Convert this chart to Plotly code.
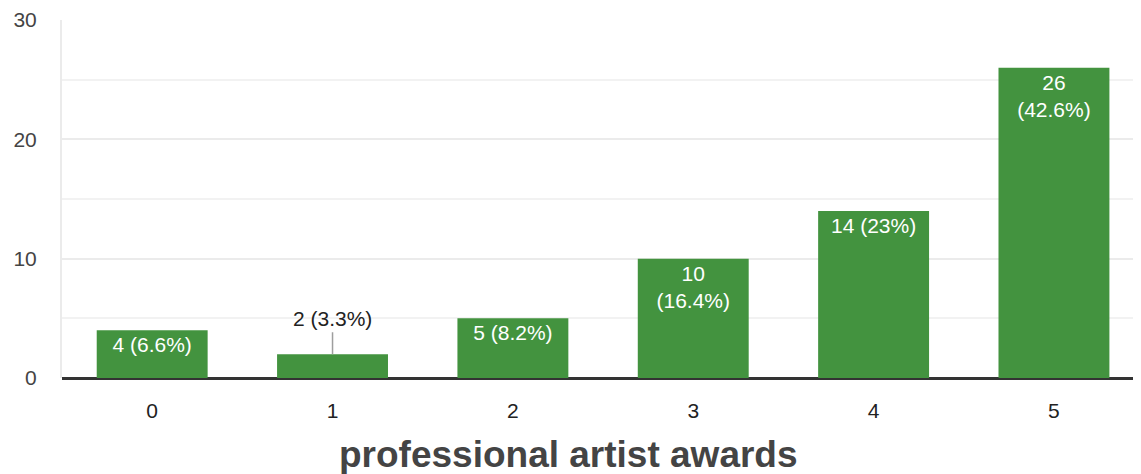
import plotly.graph_objects as go

categories = ["0", "1", "2", "3", "4", "5"]
counts = [4, 2, 5, 10, 14, 26]
percents = ["6.6%", "3.3%", "8.2%", "16.4%", "23%", "42.6%"]
wrap = [False, False, False, True, False, True]
outside = [False, True, False, False, False, False]
x_title = "professional artist awards"

labels = []
for c, p, w, o in zip(counts, percents, wrap, outside):
    if o:
        labels.append("")
    elif w:
        labels.append(f"{c}<br>({p})")
    else:
        labels.append(f"{c} ({p})")

GREEN = "#43933f"
FONT = "Liberation Sans, Arial, sans-serif"

fig = go.Figure()
fig.add_trace(go.Bar(
    x=categories, y=counts, text=labels,
    textposition="inside", insidetextanchor="end",
    textangle=0,
    textfont=dict(family=FONT, size=21, color="white"),
    marker=dict(color=GREEN, line=dict(width=0)),
    width=0.615, hoverinfo="skip", cliponaxis=False,
))

for cat, c, p, o in zip(categories, counts, percents, outside):
    if o:
        fig.add_annotation(
            x=cat, y=c, text=f"{c} ({p})", showarrow=True, arrowhead=0,
            arrowwidth=1.5, arrowcolor="#9e9e9e", ax=0, ay=-22, standoff=0,
            font=dict(family=FONT, size=21, color="#222222"),
            yanchor="bottom",
        )

# x-axis title (centred on the page, as in the reference)
fig.add_annotation(
    xref="paper", yref="paper", x=0.4664, y=0, yshift=-54,
    xanchor="center", yanchor="top", showarrow=False,
    text=f"<b>{x_title}</b>",
    font=dict(family=FONT, size=37, color="#444444"),
)

fig.update_layout(
    width=1141, height=474,
    margin=dict(l=54, r=0, t=12, b=104),
    paper_bgcolor="white", plot_bgcolor="white",
    showlegend=False, bargap=0.385,
    font=dict(family=FONT),
    xaxis=dict(
        type="category", range=[-0.5, 5.527], automargin=False,
        showgrid=False, showline=False, zeroline=False,
        ticks="", ticklabelstandoff=18,
        tickfont=dict(size=21, color="#222222"),
    ),
    yaxis=dict(
        range=[0, 30], dtick=10, tick0=0, automargin=False,
        showgrid=True, gridcolor="#ebebeb", gridwidth=2,
        minor=dict(dtick=5, showgrid=True, gridcolor="#f2f2f2", gridwidth=2),
        zeroline=True, zerolinecolor="#333333", zerolinewidth=3,
        showline=True, linecolor="#ebebeb", linewidth=2,
        ticks="", ticklabelstandoff=19,
        tickfont=dict(size=21, color="#444444"),
    ),
)

fig.write_html("out.html")
